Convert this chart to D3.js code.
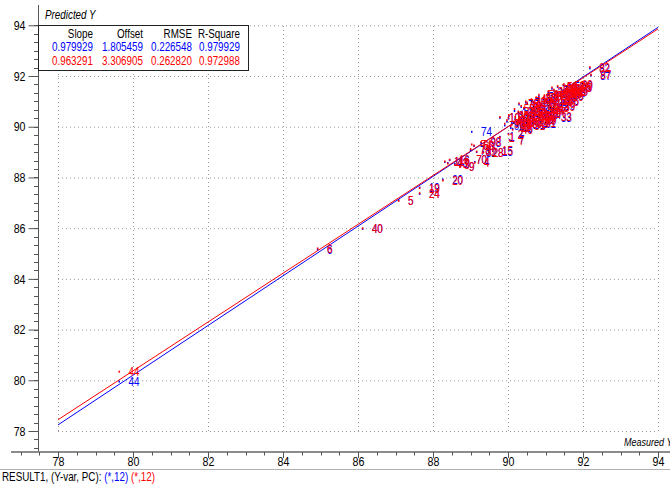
<!DOCTYPE html>
<html>
<head>
<meta charset="utf-8">
<script src="https://cdn.jsdelivr.net/npm/d3@7"></script>
<style>
    body { margin: 0; background: white; }
    svg { display: block; font-family: "Liberation Sans", Arial, sans-serif; }
</style>
</head>
<body>
<script>
// sample ids, measured Y and predicted Y (blue = calibration, red = validation)
const ids = [44, 6, 40, 5, 19, 24, 20, 74, 11, 43, 3, 70, 4, 9, 16, 78, 32, 28, 98, 60, 15, 1, 7, 10, 61, 33, 53, 95, 93, 82, 87,
    2, 8, 12, 13, 14, 17, 18, 21, 22, 23, 25, 26, 27, 29, 30, 31, 34, 35, 36, 37, 38, 39, 41, 42, 45, 46, 47, 48, 49, 50,
    51, 52, 54, 55, 56, 57, 58, 59, 62, 63, 64, 65, 66, 67, 68, 69, 71, 72, 73, 75, 76, 77, 79, 80, 81, 83, 84, 85, 86,
    88, 89, 90, 91, 92, 94, 96, 99, 100]

const measured = [79.64, 84.93, 86.13, 87.09, 87.65, 87.65, 88.27, 89.04, 88.32, 88.40, 88.59, 88.91, 89.12, 88.72, 88.45, 89.01, 89.17, 89.35, 89.29, 89.10, 89.60, 89.79, 90.05, 89.79, 90.75, 91.17, 91.33, 91.71, 91.55, 92.19, 92.22,
    90.02, 90.25, 90.40, 90.66, 90.11, 90.52, 90.83, 90.98, 90.28, 91.20, 90.76, 90.03, 90.93, 90.58, 91.33, 90.46, 91.08, 90.20, 91.48, 90.80, 90.36, 91.26, 89.98, 91.43, 90.63, 90.13, 91.03, 90.50, 91.60, 90.33,
    90.88, 90.73, 91.16, 90.18, 91.36, 90.56, 91.53, 90.83, 90.08, 91.10, 90.43, 91.28, 90.68, 90.98, 90.26, 91.46, 90.86, 90.48, 91.13, 90.30, 91.68, 90.78, 91.23, 90.02, 91.50, 90.60, 90.96, 90.38, 91.30,
    90.16, 91.73, 90.70, 91.06, 90.53, 91.40, 89.92, 90.76, 91.18]

const predBlue = [79.95, 85.16, 85.97, 87.10, 87.60, 87.35, 87.92, 89.80, 88.61, 88.57, 88.53, 88.69, 88.61, 88.45, 88.68, 89.08, 89.00, 89.00, 89.36, 89.24, 89.04, 89.60, 89.48, 90.35, 90.14, 90.38, 91.57, 91.53, 91.35, 92.30, 92.02,
    89.72, 90.05, 90.38, 90.62, 90.15, 90.90, 90.70, 91.02, 90.55, 91.12, 91.10, 90.42, 90.48, 90.28, 91.28, 90.10, 91.35, 90.30, 91.22, 90.40, 90.78, 90.85, 90.20, 91.48, 91.00, 89.92, 90.68, 90.52, 91.40, 90.22,
    90.88, 90.50, 90.98, 90.62, 91.05, 90.45, 91.60, 91.20, 89.95, 90.78, 90.70, 91.30, 90.32, 91.18, 90.08, 91.35, 90.58, 90.95, 91.08, 90.88, 91.55, 90.78, 91.42, 90.32, 91.38, 90.40, 90.72, 90.60, 91.15,
    90.15, 91.62, 90.88, 91.25, 90.18, 91.28, 90.05, 90.25, 91.50]

const predRed = [80.34, 85.20, 85.99, 87.08, 87.58, 87.38, 87.88, 89.30, 88.63, 88.55, 88.50, 88.72, 88.58, 88.42, 88.70, 89.12, 89.02, 88.98, 89.40, 89.26, 89.06, 89.58, 89.46, 90.38, 90.16, 90.40, 91.60, 91.55, 91.38, 92.35, 92.05,
    89.70, 90.10, 90.41, 90.66, 90.08, 90.95, 90.72, 91.08, 90.60, 91.05, 91.16, 90.46, 90.52, 90.22, 91.30, 90.04, 91.40, 90.38, 91.18, 90.35, 90.82, 90.80, 90.26, 91.52, 91.08, 89.88, 90.62, 90.58, 91.38, 90.18,
    90.92, 90.46, 91.04, 90.70, 91.00, 90.40, 91.62, 91.26, 90.02, 90.74, 90.75, 91.36, 90.28, 91.24, 90.12, 91.30, 90.54, 91.00, 91.12, 90.92, 91.58, 90.84, 91.46, 90.36, 91.42, 90.46, 90.68, 90.55, 91.20,
    90.20, 91.66, 90.94, 91.22, 90.14, 91.32, 90.12, 90.30, 91.55]

const statHeaders = ['Slope', 'Offset', 'RMSE', 'R-Square']
const blueStats = [0.979929, 1.805459, 0.226548, 0.979929]
const redStats = [0.963291, 3.306905, 0.262820, 0.972988]

const xTicks = [78, 80, 82, 84, 86, 88, 90, 92, 94]
const yTicks = [78, 80, 82, 84, 86, 88, 90, 92, 94]

const [width, height] = [670, 486]
const blue = '#0000ff', red = '#ff0000'
const narrow = 0.82   // no narrow font installed, squeeze Liberation Sans instead

const x = d3.scaleLinear().domain([78, 94]).range([58, 658])
const y = d3.scaleLinear().domain([78, 94]).range([431, 25.3])

const svg = d3.select('body')
    .append('svg')
        .attr('width', width)
        .attr('height', height)

const label = (parent, txt, tx, ty, size) => parent.append('text')
    .text(txt)
    .attr('transform', `translate(${tx},${ty}) scale(${narrow},1)`)
    .style('font-size', size + 'px')

// grid
const grid = svg.append('g').attr('stroke', '#9a9a9a').attr('stroke-dasharray', '1,3')
grid.selectAll('.h').data(yTicks).enter().append('line')
    .attr('x1', x(78)).attr('x2', x(94))
    .attr('y1', d => y(d) + 0.5).attr('y2', d => y(d) + 0.5)
grid.selectAll('.v').data(xTicks).enter().append('line')
    .attr('x1', d => x(d) + 0.5).attr('x2', d => x(d) + 0.5)
    .attr('y1', y(78)).attr('y2', y(94))

// y axis
svg.append('line').attr('x1', 38.5).attr('x2', 38.5).attr('y1', 5).attr('y2', 452).attr('stroke', '#555')
const yMinor = d3.range(-2, 51).map(i => 78 - 2 / 3 + i / 3).filter(v => y(v) > 6 && y(v) < 450)
svg.append('g').selectAll('line').data(yMinor).enter().append('line')
    .attr('x1', 34).attr('x2', 38)
    .attr('y1', d => Math.round(y(d)) + 0.5).attr('y2', d => Math.round(y(d)) + 0.5)
    .attr('stroke', '#555')
const yAxis = svg.append('g')
    .attr('transform', 'translate(38.5,0)')
    .call(d3.axisLeft(y).tickValues(yTicks).tickSize(10).tickPadding(3).tickFormat(d3.format('d')))
yAxis.select('.domain').remove()
yAxis.selectAll('line').attr('stroke', '#555')
yAxis.selectAll('text')
    .attr('x', -13 / narrow)
    .attr('transform', `scale(${narrow},1)`)
    .style('font-size', '13px').style('font-family', 'inherit').attr('fill', '#000')

// x axis
svg.append('line').attr('x1', 11).attr('x2', 670).attr('y1', 452).attr('y2', 452).attr('stroke', '#8c8c8c').attr('stroke-width', 2)
const xMinor = d3.range(0, 36).map(i => 77 + i / 2).filter(v => x(v) > 12 && x(v) < 668)
svg.append('g').selectAll('line').data(xMinor).enter().append('line')
    .attr('x1', d => Math.round(x(d)) + 0.5).attr('x2', d => Math.round(x(d)) + 0.5)
    .attr('y1', 452).attr('y2', 455.5)
    .attr('stroke', '#555')
const xAxis = svg.append('g')
    .attr('transform', 'translate(0,452)')
    .call(d3.axisBottom(x).tickValues(xTicks).tickSize(6).tickFormat(d3.format('d')))
xAxis.select('.domain').remove()
xAxis.selectAll('line').attr('stroke', '#555')
xAxis.selectAll('text')
    .attr('y', 5)
    .attr('transform', `scale(${narrow},1)`)
    .style('font-size', '13px').style('font-family', 'inherit').attr('fill', '#000')

label(svg, 'Measured Y', 624, 446, 11).style('font-style', 'italic')

svg.append('line').attr('x1', 0).attr('x2', 670).attr('y1', 469.5).attr('y2', 469.5).attr('stroke', '#b0b0b0')

const footer = label(svg, '', 2, 481, 12)
footer.append('tspan').text('RESULT1, (Y-var, PC): ')
footer.append('tspan').text('(*,12)').attr('fill', blue)
footer.append('tspan').text(' (*,12)').attr('fill', red)

// regression lines from slope / offset
const fits = [[blueStats, blue], [redStats, red]]
svg.append('g').selectAll('line').data(fits).enter().append('line')
    .attr('x1', x(78)).attr('x2', x(94))
    .attr('y1', d => y(d[0][0] * 78 + d[0][1]))
    .attr('y2', d => y(d[0][0] * 94 + d[0][1]))
    .attr('stroke', d => d[1])
    .attr('stroke-width', 1)

// points + sample labels
const series = [[predBlue, blue], [predRed, red]]
series.forEach(([pred, col]) => {
    const g = svg.append('g').attr('fill', col)
    g.selectAll('rect').data(ids).enter().append('rect')
        .attr('x', (d, i) => x(measured[i]) - 1)
        .attr('y', (d, i) => y(pred[i]) - 1)
        .attr('width', 1.5).attr('height', 2)
    g.selectAll('text').data(ids).enter().append('text')
        .text(d => d)
        .attr('transform', (d, i) => `translate(${x(measured[i]) + 9},${y(pred[i]) + 4.5}) scale(${narrow},1)`)
        .style('font-size', '12px')
})

// stats box
label(svg, 'Predicted Y', 45, 19, 12).style('font-style', 'italic')

svg.append('rect')
    .attr('x', 38.5).attr('y', 25.5)
    .attr('width', 210).attr('height', 45)
    .attr('fill', 'white').attr('stroke', '#222')

const colX = [93, 143, 192, 240]
const rows = [[statHeaders, '#000', 37.5], [blueStats.map(v => v.toFixed(6)), blue, 51], [redStats.map(v => v.toFixed(6)), red, 65]]
rows.forEach(([vals, col, ry]) => {
    const g = svg.append('g').attr('fill', col)
    vals.forEach((v, i) => label(g, v, colX[i], ry, 12).attr('text-anchor', 'end'))
})
</script>
</body>
</html>
